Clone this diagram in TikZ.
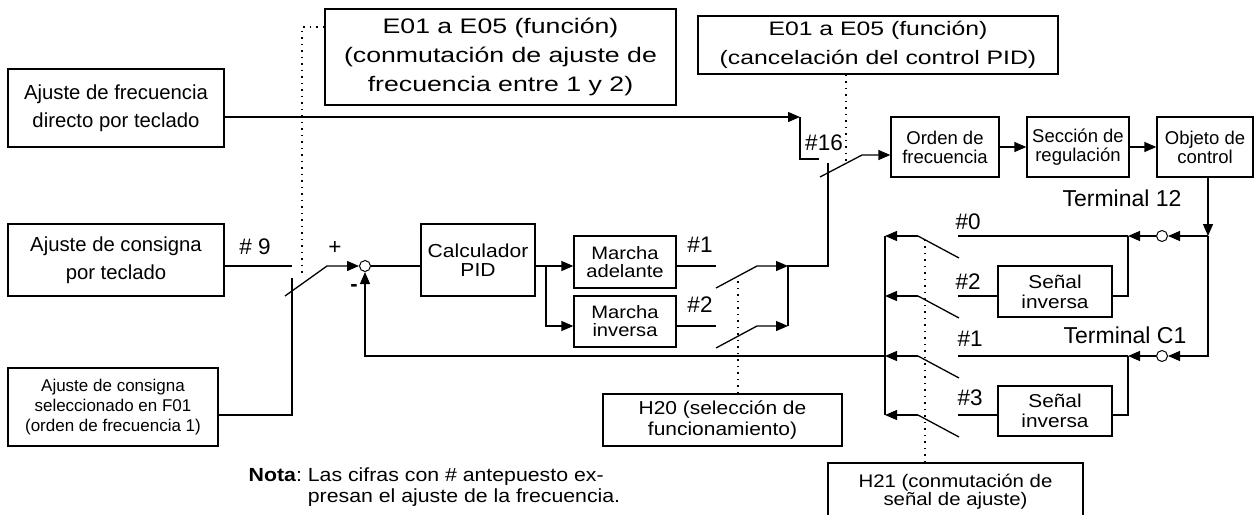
\documentclass[tikz,border=0pt]{standalone}
\usepackage{fontspec}
\setmainfont{Liberation Sans}
\newfontfamily\wideA[FakeStretch=1.27]{Liberation Sans}
\newfontfamily\wideB[FakeStretch=1.12]{Liberation Sans}
\usetikzlibrary{arrows.meta,calc}
\newcommand\fs[2]{\fontsize{#1}{#2}\selectfont}
\begin{document}
\begin{tikzpicture}[x=1pt,y=-1pt,line width=1.3pt,
  box/.style={draw,rectangle,inner sep=0pt,align=center},
  arr/.style={-{Triangle[length=12pt,width=10pt]}},
  dots/.style={line width=1.5pt,dash pattern=on 1.5pt off 5pt},
  lbl/.style={inner sep=0pt,font=\fs{22.5}{24}},
  sumc/.style={draw,circle,fill=white,minimum size=11pt,inner sep=0pt,line width=1pt}]
\useasboundingbox (0,0) rectangle (1260,514);
% boxes
\node[box,minimum width=216pt,minimum height=78pt,font=\fs{20.3}{28}] (kbd) at (116,108) {Ajuste de frecuencia\\directo por teclado};
\node[box,minimum width=216pt,minimum height=72pt,font=\fs{20.3}{28}] (sp2) at (116,260) {Ajuste de consigna\\por teclado};
\node[box,minimum width=210pt,minimum height=78pt,font=\fs{17}{20}] (sp3) at (113,407) {Ajuste de consigna\\seleccionado en F01\\(orden de frecuencia 1)};
\node[box,minimum width=351pt,minimum height=96pt,font=\wideA\fs{21}{29}] (topA) at (500.5,57) {E01 a E05 (función)\\(conmutación de ajuste de\\frecuencia entre 1 y 2)};
\node[box,minimum width=360pt,minimum height=58pt,font=\wideA\fs{19.5}{29}] (topB) at (878,45) {E01 a E05 (función)\\(cancelación del control PID)};
\node[box,minimum width=108pt,minimum height=60pt,font=\fs{18.5}{19}] (orden) at (945,147) {Orden de\\frecuencia};
\node[box,minimum width=102pt,minimum height=60pt,font=\fs{18.5}{19}] (secc) at (1078,147) {Sección de\\regulación};
\node[box,minimum width=96pt,minimum height=60pt,font=\fs{18.5}{19}] (obj) at (1205,147) {Objeto de\\control};
\node[box,minimum width=114pt,minimum height=72pt,font=\wideB\fs{18.8}{19}] (calc) at (478,260) {Calculador\\PID};
\node[box,minimum width=102pt,minimum height=52pt,font=\wideB\fs{18}{18}] (adel) at (625,262) {Marcha\\adelante};
\node[box,minimum width=102pt,minimum height=51pt,font=\wideB\fs{18}{18}] (inv) at (625,321.5) {Marcha\\inversa};
\node[box,minimum width=239pt,minimum height=52pt,font=\wideB\fs{18.7}{21}] (h20) at (722.5,420) {H20 (selección de\\funcionamiento)};
\node[box,minimum width=114pt,minimum height=51pt,font=\wideB\fs{18.6}{20}] (sen1) at (1055,291.5) {Señal\\inversa};
\node[box,minimum width=114pt,minimum height=50pt,font=\wideB\fs{18.6}{20}] (sen2) at (1055,411) {Señal\\inversa};
\node[box,minimum width=255pt,minimum height=53pt,font=\wideB\fs{18.2}{18},text depth=0pt] (h21) at (955.5,489.5) {H21 (conmutación de\\señal de ajuste)};
% circles
\node[sumc] (sum) at (365,266) {};
\node[sumc] (ct1) at (1162,236) {};
\node[sumc] (ct2) at (1162,356) {};
% labels
\node[lbl] (l9) at (255,247) {\# 9};
\node[lbl] (lplus) at (335,248) {+};
\node[lbl,font=\bfseries\fs{22}{24}] (lminus) at (354,288) {-};
\node[lbl] (l1) at (700,245) {\#1};
\node[lbl] (l2) at (700,305) {\#2};
\node[lbl] (l16) at (824,143) {\#16};
\node[lbl] (r0) at (968,222) {\#0};
\node[lbl] (r2) at (968,282) {\#2};
\node[lbl] (r1) at (970,339) {\#1};
\node[lbl] (r3) at (970,398) {\#3};
\node[lbl,font=\fs{23}{24}] (term12) at (1122,198) {Terminal 12};
\node[lbl,font=\fs{23}{24}] (termC1) at (1125,335) {Terminal C1};
\node[anchor=base west,inner sep=0pt,font=\wideB\fs{19}{21}] (nota) at (248,481)
  {\begin{tabular}[t]{@{}l@{\ }l@{}}\textbf{Nota}: & Las cifras con \# antepuesto ex-\\ & presan el ajuste de la frecuencia.\end{tabular}};
% coordinates
\coordinate (k16) at (800,117);
\coordinate (k16b) at (819,159);
\coordinate (b16a) at (820,177);
\coordinate (b16b) at (862,155);
\coordinate (j16) at (828,163);
\coordinate (j1) at (828,266);
\coordinate (m1) at (788,266);
\coordinate (m2) at (788,326);
\coordinate (c1a) at (716,266);
\coordinate (c2a) at (716,326);
\coordinate (bl1a) at (716,288);
\coordinate (bl1b) at (757,266);
\coordinate (bl2a) at (716,348);
\coordinate (bl2b) at (757,326);
\coordinate (br) at (546,266);
\coordinate (k9) at (292,266);
\coordinate (k9b) at (292,278);
\coordinate (k9c) at (292,415);
\coordinate (b9a) at (285,296);
\coordinate (b9b) at (327,266);
\coordinate (fb) at (885,356);
\coordinate (fbc) at (365,356);
\coordinate (busT) at (885,236);
\coordinate (busB) at (885,415);
\coordinate (o1) at (1208,236);
\coordinate (o2) at (1208,356);
\coordinate (t1) at (1128,236);
\coordinate (t2) at (1128,356);
\coordinate (t1s) at (1128,296);
\coordinate (t2s) at (1128,415);
\coordinate (p0) at (958,236);
\coordinate (p2) at (958,296);
\coordinate (p1) at (958,356);
\coordinate (p3) at (958,415);
\coordinate (dA0) at (302,27);
\coordinate (dA) at (302,275);
\coordinate (dB) at (846,162);
\coordinate (dH) at (738,277);
\coordinate (dI) at (925,240);
% dotted control lines
\draw[dots] (topA.west |- dA0) -- (dA0) -- (dA);
\draw[dots] (topB.south -| dB) -- (dB);
\draw[dots] (h20.north -| dH) -- (dH);
\draw[dots] (h21.north -| dI) -- (dI);
% top path / #16 switch
\draw[arr] (kbd.east |- k16) -- (k16);
\draw (k16) -- (k16 |- k16b) -- (k16b);
\draw[arr] (b16a) -- (b16b) -- (orden.west |- b16b);
% #9 switch and summing point
\draw (sp2.east |- k9) -- (k9);
\draw (sp3.east |- k9c) -- (k9c) -- (k9b);
\draw[arr] (b9a) -- (b9b) -- (sum.west);
\draw[arr] (fb) -- (fbc) -- (sum.south);
\draw (sum.east) -- (calc.west |- sum);
% PID branches
\draw[arr] (calc.east |- br) -- (adel.west |- br);
\draw[arr] (br) -- (br |- m2) -- (inv.west |- m2);
\draw (adel.east |- c1a) -- (c1a);
\draw (inv.east |- c2a) -- (c2a);
\draw[arr] (bl1a) -- (bl1b) -- (m1);
\draw[arr] (bl2a) -- (bl2b) -- (m2);
\draw (m2) -- (m1) -- (j1) -- (j16);
% forward chain
\draw[arr] (orden.east) -- (secc.west);
\draw[arr] (secc.east) -- (obj.west);
\draw[arr] (obj.south -| o1) -- (o1);
\draw[arr] (o1) -- (ct1.east);
\draw[arr] (o1) -- (o2) -- (ct2.east);
\draw[arr] (ct1.west) -- (t1);
\draw[arr] (ct2.west) -- (t2);
\draw (t1) -- (p0);
\draw (t1) -- (t1s) -- (sen1.east |- t1s);
\draw (sen1.west |- t1s) -- (p2);
\draw (t2) -- (p1);
\draw (t2) -- (t2s) -- (sen2.east |- t2s);
\draw (sen2.west |- t2s) -- (p3);
% H21 selector
\draw (busT) -- (busB);
\foreach \i/\y in {0/236,2/296,1/356,3/415}{
  \coordinate (q\i) at (918,\y);
  \coordinate (qb\i) at (885,\y);
  \coordinate (qe\i) at (959,\y+22);
  \draw[arr] (q\i) -- (qb\i);
  \draw (q\i) -- (qe\i);
}
\end{tikzpicture}
\end{document}
